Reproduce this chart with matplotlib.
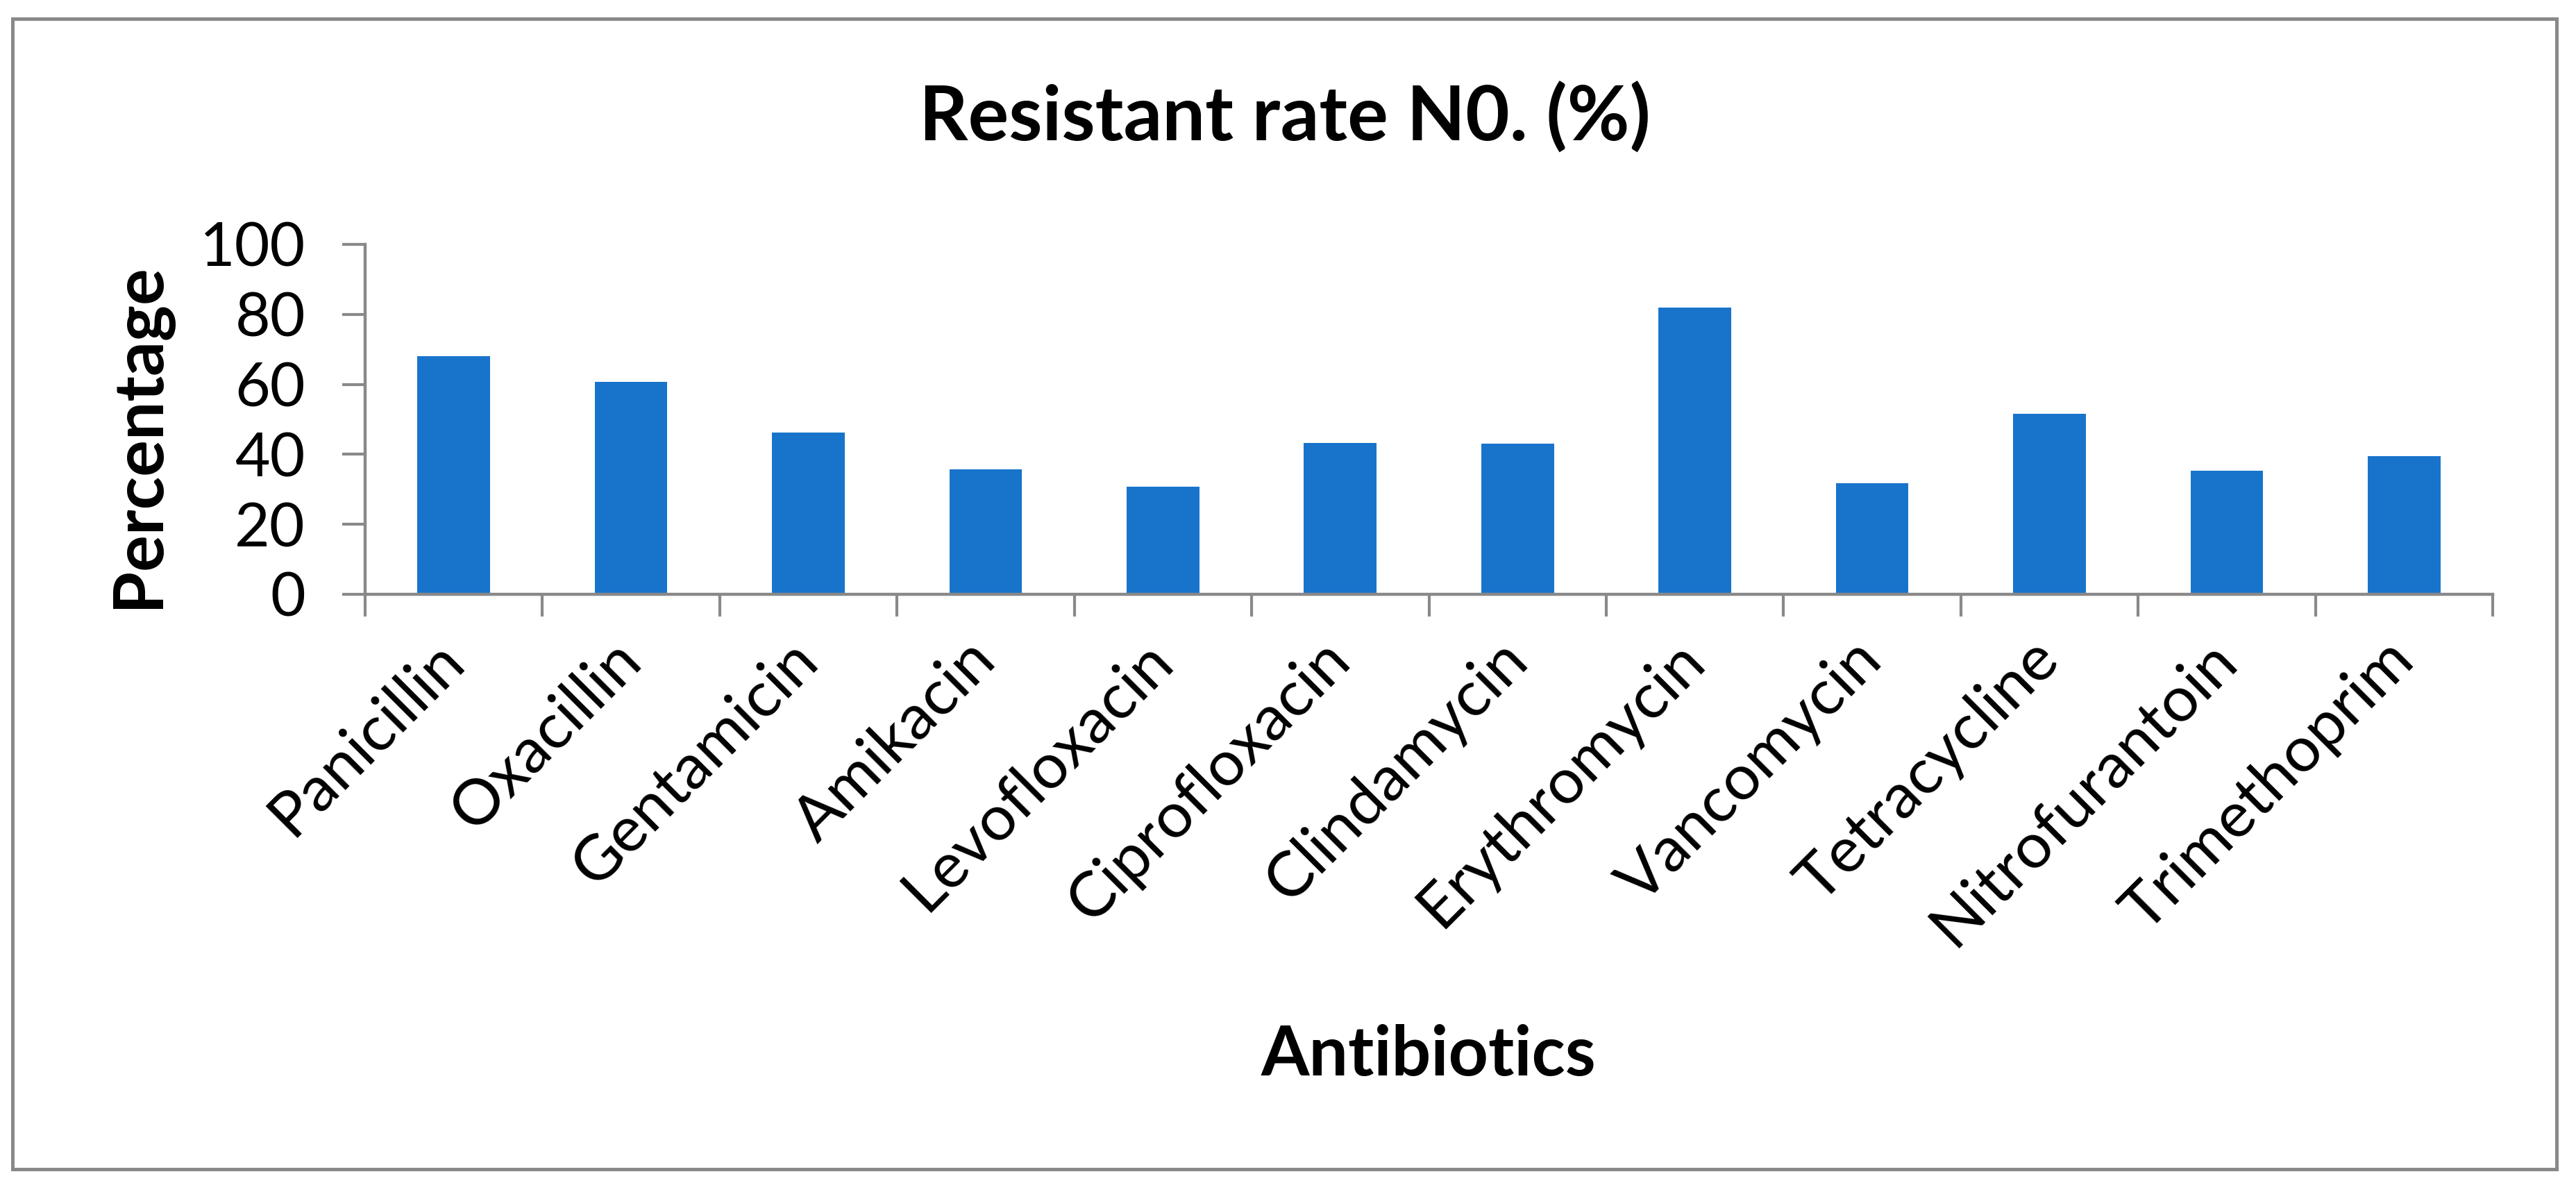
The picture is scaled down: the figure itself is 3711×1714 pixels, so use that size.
import matplotlib
matplotlib.use("Agg")
import matplotlib.pyplot as plt
from matplotlib.patches import Rectangle
import numpy as np

# data
antibiotics = [
    "Panicillin", "Oxacillin", "Gentamicin", "Amikacin", "Levofloxacin",
    "Ciprofloxacin", "Clindamycin", "Erythromycin", "Vancomycin",
    "Tetracycline", "Nitrofurantoin", "Trimethoprim",
]
resistant_pct = [68.0, 60.7, 46.2, 35.7, 30.7, 43.2, 43.0, 81.9, 31.7, 51.5, 35.3, 39.5]
y_ticks = [0, 20, 40, 60, 80, 100]

BAR_COLOR = "#1874CB"
AXIS_COLOR = "#898989"

plt.rcParams["font.family"] = ["Lato", "DejaVu Sans"]

W, H, DPI = 3711, 1714, 100
fig = plt.figure(figsize=(W / DPI, H / DPI), dpi=DPI)
ax = fig.add_axes([526 / W, 1 - 856 / H, (3591 - 526) / W, (856 - 352) / H])

x = np.arange(len(antibiotics))
ax.bar(x, resistant_pct, width=0.41, color=BAR_COLOR, zorder=2)

ax.set_xlim(-0.5, len(antibiotics) - 0.5)
ax.set_ylim(0, 100)
ax.set_yticks(y_ticks)
ax.set_yticklabels([str(v) for v in y_ticks], fontsize=63)

# category labels at centres, tick marks on the category boundaries
ax.set_xticks(x)
ax.set_xticklabels(antibiotics, fontsize=66, rotation=45, ha="right",
                   va="center", rotation_mode="anchor")
ax.set_xticks(np.arange(len(antibiotics) + 1) - 0.5, minor=True)
ax.tick_params(axis="x", which="major", length=0, pad=58)
ax.tick_params(axis="x", which="minor", length=23, width=3, color=AXIS_COLOR)
ax.tick_params(axis="y", length=24, width=3, color=AXIS_COLOR, pad=38)

for side in ["top", "right"]:
    ax.spines[side].set_visible(False)
for side in ["left", "bottom"]:
    ax.spines[side].set_color(AXIS_COLOR)
    ax.spines[side].set_linewidth(3.2)

fig.text(0.4988, 1 - 203 / H, "Resistant rate N0. (%)", fontsize=79,
         fontweight="bold", ha="center", va="baseline")
fig.text(2058 / W, 1 - 1549 / H, "Antibiotics", fontsize=72,
         fontweight="bold", ha="center", va="baseline")
fig.text(201 / W, 1 - 627 / H, "Percentage", fontsize=71, fontweight="bold",
         rotation=90, ha="center", va="center")

# outer chart border
fig.patches.append(Rectangle((18 / W, 1 - 1684 / H), (3683 - 18) / W, (1684 - 27) / H,
                             transform=fig.transFigure, fill=False,
                             edgecolor=AXIS_COLOR, linewidth=3.6))

fig.savefig("out.png", dpi=DPI, facecolor="white")
